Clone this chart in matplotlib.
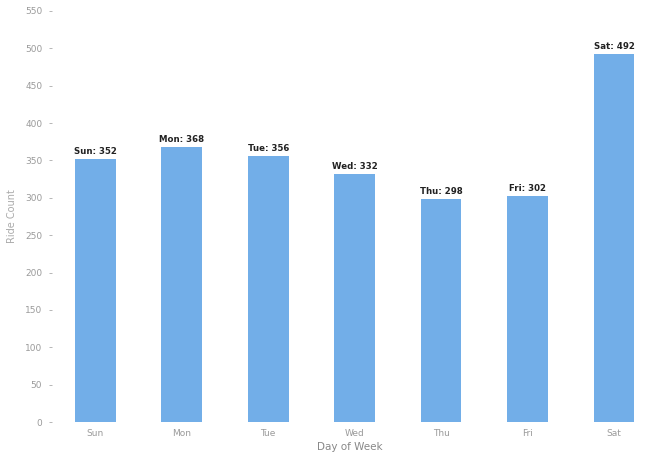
import matplotlib
matplotlib.use("Agg")
import matplotlib.pyplot as plt

days = ["Sun", "Mon", "Tue", "Wed", "Thu", "Fri", "Sat"]
ride_counts = [352, 368, 356, 332, 298, 302, 492]
y_ticks = [0, 50, 100, 150, 200, 250, 300, 350, 400, 450, 500, 550]

bar_color = "#72aee8"
tick_color = "#9a9a9a"

fig = plt.figure(figsize=(6.47, 4.59), dpi=100)
ax = fig.add_axes([52 / 647, 37 / 459, (647 - 52) / 647, (422 - 11) / 459])

x = list(range(len(days)))
ax.bar(x, ride_counts, width=0.47, color=bar_color, edgecolor="none")

for xi, day, val in zip(x, days, ride_counts):
    ax.text(xi, val + 4, f"{day}: {val}", ha="center", va="bottom",
            fontsize=6.2, fontweight="bold", color="#222222")

ax.set_xlim(-0.5, 6.38)
ax.set_ylim(0, 550)
ax.set_xticks(x)
ax.set_xticklabels(days)
ax.set_yticks(y_ticks)
ax.tick_params(axis="both", labelsize=6.5, colors=tick_color, length=2, width=0.5)
ax.tick_params(axis="y", pad=5)
ax.tick_params(axis="x", length=0, pad=5)
for spine in ax.spines.values():
    spine.set_visible(False)

ax.set_xlabel("Day of Week", fontsize=7.5, color="#888888", labelpad=3)
ax.set_ylabel("Ride Count", fontsize=7, color="#aaaaaa", labelpad=6)

fig.savefig("out.png", dpi=100, facecolor="white")
